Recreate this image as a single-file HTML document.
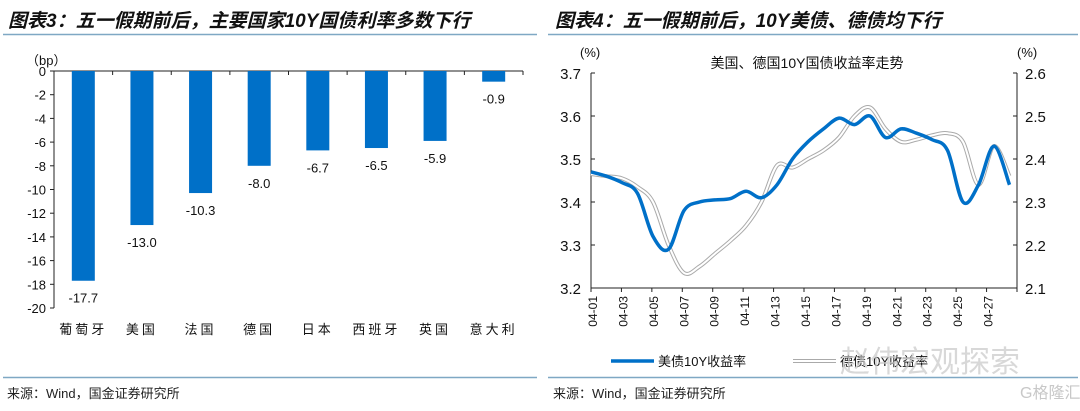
<!DOCTYPE html>
<html><head><meta charset="utf-8">
<style>
body{margin:0;width:1080px;height:406px;background:#fff;overflow:hidden;font-family:"Liberation Sans","Noto Sans CJK SC",sans-serif;}
svg text{font-family:"Liberation Sans","Noto Sans CJK SC",sans-serif;}
</style></head>
<body>
<svg id="c" width="1080" height="406" xmlns="http://www.w3.org/2000/svg">
<text x="8" y="27" font-size="19" font-weight="bold" font-style="italic" fill="#111">图表3：五一假期前后，主要国家10Y国债利率多数下行</text>
<text x="555" y="27" font-size="19" font-weight="bold" font-style="italic" fill="#111">图表4：五一假期前后，10Y美债、德债均下行</text>
<line x1="3" y1="34.5" x2="537" y2="34.5" stroke="#7fa8c4" stroke-width="1.5"/>
<line x1="548" y1="34.5" x2="1078" y2="34.5" stroke="#7fa8c4" stroke-width="1.5"/>
<line x1="3" y1="377.5" x2="537" y2="377.5" stroke="#7fa8c4" stroke-width="1.5"/>
<line x1="548" y1="377.5" x2="1078" y2="377.5" stroke="#7fa8c4" stroke-width="1.5"/>
<text x="7" y="398" font-size="13" fill="#222">来源：Wind，国金证券研究所</text>
<text x="553" y="398" font-size="13" fill="#222">来源：Wind，国金证券研究所</text>
<g id="left"></g>
<g id="right"></g>
<text x="840" y="372" font-size="30" fill="#c8c8c8" opacity="0.7">赵伟宏观探索</text>
<text x="1020" y="398" font-size="16" fill="#c8c8c8">G格隆汇</text>
</svg>
<script>
const categories=["葡萄牙","美国","法国","德国","日本","西班牙","英国","意大利"];
const barValues=[-17.7,-13.0,-10.3,-8.0,-6.7,-6.5,-5.9,-0.9];
const barTicks=[0,-2,-4,-6,-8,-10,-12,-14,-16,-18,-20];

const days=["04-01","04-02","04-03","04-04","04-05","04-06","04-07","04-08","04-09","04-10","04-11","04-12","04-13","04-14","04-15","04-16","04-17","04-18","04-19","04-20","04-21","04-22","04-23","04-24","04-25","04-26","04-27","04-28"];
const usYield=[3.47,3.46,3.445,3.42,3.32,3.29,3.38,3.40,3.405,3.408,3.425,3.41,3.44,3.50,3.54,3.57,3.595,3.58,3.60,3.55,3.57,3.56,3.545,3.52,3.40,3.44,3.53,3.44];
const deYield=[2.365,2.36,2.355,2.335,2.30,2.20,2.135,2.15,2.18,2.21,2.245,2.30,2.385,2.38,2.40,2.42,2.45,2.50,2.52,2.47,2.44,2.445,2.455,2.46,2.44,2.34,2.43,2.36];
const leftTicks=[3.2,3.3,3.4,3.5,3.6,3.7];
const rightTicks=[2.1,2.2,2.3,2.4,2.5,2.6];
const NS="http://www.w3.org/2000/svg";
function mk(p,t,a){const e=document.createElementNS(NS,t);for(const k in a)e.setAttribute(k,a[k]);p.appendChild(e);return e;}

// Left bar chart
const L=document.getElementById('left');
const bx0=54,bx1=523,by0=71,by1=308;
const by=v=>by0+(0-v)/20*(by1-by0);
const bw=(bx1-bx0)/categories.length;
let ax=mk(L,'line',{x1:bx0,y1:by0,x2:bx0,y2:by1,stroke:'#222'});


ax=mk(L,'line',{x1:bx0,y1:by0,x2:bx1,y2:by0,stroke:'#222'});


barTicks.forEach(t=>{
  const y=by(t);
  mk(L,'line',{x1:bx0-4,y1:y,x2:bx0,y2:y,stroke:'#222'});
  const tx=mk(L,'text',{x:bx0-8,y:y+5,'font-size':13,'text-anchor':'end',fill:'#111'});
  tx.textContent=t;
  
  
});
for(let i=0;i<=categories.length;i++){mk(L,'line',{x1:bx0+i*bw,y1:by0,x2:bx0+i*bw,y2:by0+4,stroke:'#222'});}
const bpl=mk(L,'text',{x:26,y:65,'font-size':13,fill:'#111'});bpl.textContent='（bp）';


categories.forEach((c,i)=>{
  const cx=bx0+bw*(i+0.5);
  const v=barValues[i];
  const r=mk(L,'rect',{x:cx-11.5,y:by0,width:23,height:by(v)-by0,fill:'#0070c8'});
  
  
  const lab=mk(L,'text',{x:cx,y:by(v)+22,'font-size':13,'text-anchor':'middle',fill:'#111'});
  lab.textContent=v.toFixed(1);
  
  
  const cl=mk(L,'text',{x:cx,y:334,'font-size':13,'text-anchor':'middle',fill:'#111','letter-spacing':'3'});
  cl.textContent=c;
  
  
});

// Right line chart
const R=document.getElementById('right');
const rx0=591,rx1=1017,ry0=73,ry1=288;
const xs=i=>rx0+i*15.5;
const xt=k=>rx0+k*(rx1-rx0)/14;
const yl=v=>ry1-(v-3.2)/0.5*(ry1-ry0);
const yr=v=>ry1-(v-2.1)/0.5*(ry1-ry0);
ax=mk(R,'line',{x1:rx0,y1:ry0,x2:rx0,y2:ry1,stroke:'#222'});


ax=mk(R,'line',{x1:rx1,y1:ry0,x2:rx1,y2:ry1,stroke:'#222'});


ax=mk(R,'line',{x1:rx0,y1:ry1,x2:rx1,y2:ry1,stroke:'#222'});


leftTicks.forEach(t=>{const y=yl(t);mk(R,'line',{x1:rx0,y1:y,x2:rx0+4,y2:y,stroke:'#222'});
  const tx=mk(R,'text',{x:rx0-10,y:y+6,'font-size':15,'text-anchor':'end',fill:'#111'});tx.textContent=t.toFixed(1);
  
  });
rightTicks.forEach(t=>{const y=yr(t);mk(R,'line',{x1:rx1-4,y1:y,x2:rx1,y2:y,stroke:'#222'});
  const tx=mk(R,'text',{x:rx1+8,y:y+6,'font-size':15,fill:'#111'});tx.textContent=t.toFixed(1);
  
  });
for(let k=0;k<=14;k++){mk(R,'line',{x1:xt(k),y1:ry1,x2:xt(k),y2:ry1+4,stroke:'#222'});}
days.forEach((d,i)=>{if(i%2)return;const x=xt(i/2)+6;
  const tx=mk(R,'text',{x:x,y:ry1+8,'font-size':12,'text-anchor':'end',fill:'#111',transform:`rotate(-90 ${x} ${ry1+8})`});
  tx.textContent=d;
  
  });
let t=mk(R,'text',{x:580,y:57,'font-size':13,fill:'#111'});t.textContent='(%)';


t=mk(R,'text',{x:1017,y:57,'font-size':13,fill:'#111'});t.textContent='(%)';


t=mk(R,'text',{x:807,y:68,'font-size':14,'text-anchor':'middle',fill:'#111'});t.textContent='美国、德国10Y国债收益率走势';


function smooth(pts){let d=`M${pts[0][0]},${pts[0][1]}`;for(let i=0;i<pts.length-1;i++){const p0=pts[i-1]||pts[i],p1=pts[i],p2=pts[i+1],p3=pts[i+2]||p2;
  d+=` C${p1[0]+(p2[0]-p0[0])/6},${p1[1]+(p2[1]-p0[1])/6} ${p2[0]-(p3[0]-p1[0])/6},${p2[1]-(p3[1]-p1[1])/6} ${p2[0]},${p2[1]}`;}return d;}
const dePts=deYield.map((v,i)=>[xs(i),yr(v)]);
const deD=smooth(dePts);
let p=mk(R,'path',{d:deD,fill:'none',stroke:'#aaa','stroke-width':4});


mk(R,'path',{d:deD,fill:'none',stroke:'#fff','stroke-width':2});
const usPts=usYield.map((v,i)=>[xs(i),yl(v)]);
p=mk(R,'path',{d:smooth(usPts),fill:'none',stroke:'#0070c8','stroke-width':3.5});


// legend
let lg=mk(R,'line',{x1:611,y1:361,x2:654,y2:361,stroke:'#0070c8','stroke-width':3.5});


t=mk(R,'text',{x:658,y:366,'font-size':13,fill:'#111'});t.textContent='美债10Y收益率';


lg=mk(R,'line',{x1:793,y1:361,x2:836,y2:361,stroke:'#aaa','stroke-width':4});


mk(R,'line',{x1:793,y1:361,x2:836,y2:361,stroke:'#fff','stroke-width':2});
t=mk(R,'text',{x:840,y:366,'font-size':13,fill:'#111'});t.textContent='德债10Y收益率';


</script>
</body></html>
